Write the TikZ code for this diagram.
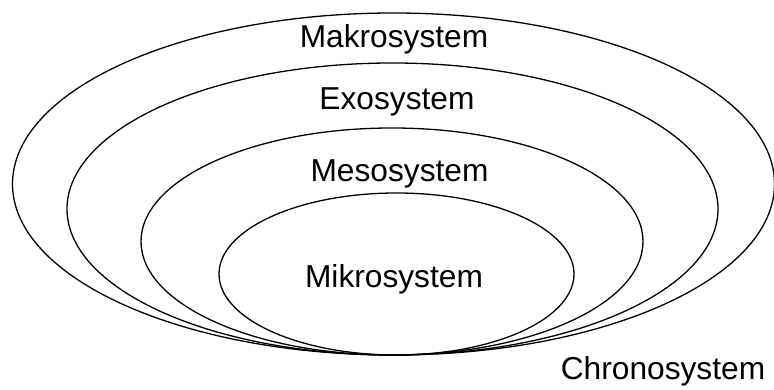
\documentclass[tikz,border=0pt]{standalone}
\usepackage{fontspec}
\setmainfont{Liberation Sans}
\usetikzlibrary{shapes.geometric}
\begin{document}
\begin{tikzpicture}[x=1pt,y=1pt,
  ring/.style={ellipse, draw, line width=1.3pt, inner sep=0pt},
  lbl/.style={anchor=base, inner sep=0pt, font=\fontsize{31.7}{34}\selectfont}]
\useasboundingbox (0,0) rectangle (774,390);
\node[ring, minimum width=762, minimum height=342] (makro) at (393.5,206) {};
\node[ring, minimum width=651, minimum height=292] (exo) at (392.5,181) {};
\node[ring, minimum width=502, minimum height=227] (meso) at (392,148.5) {};
\node[ring, minimum width=355, minimum height=162] (mikro) at (396.5,116) {};
\node[lbl] (tmakro) at (394,342) {Makrosystem};
\node[lbl] (texo) at (397,280) {Exosystem};
\node[lbl] (tmeso) at (399.5,208) {Mesosystem};
\node[lbl] (tmikro) at (394,102) {Mikrosystem};
\node[lbl] (tchrono) at (663,10) {Chronosystem};
\end{tikzpicture}
\end{document}
